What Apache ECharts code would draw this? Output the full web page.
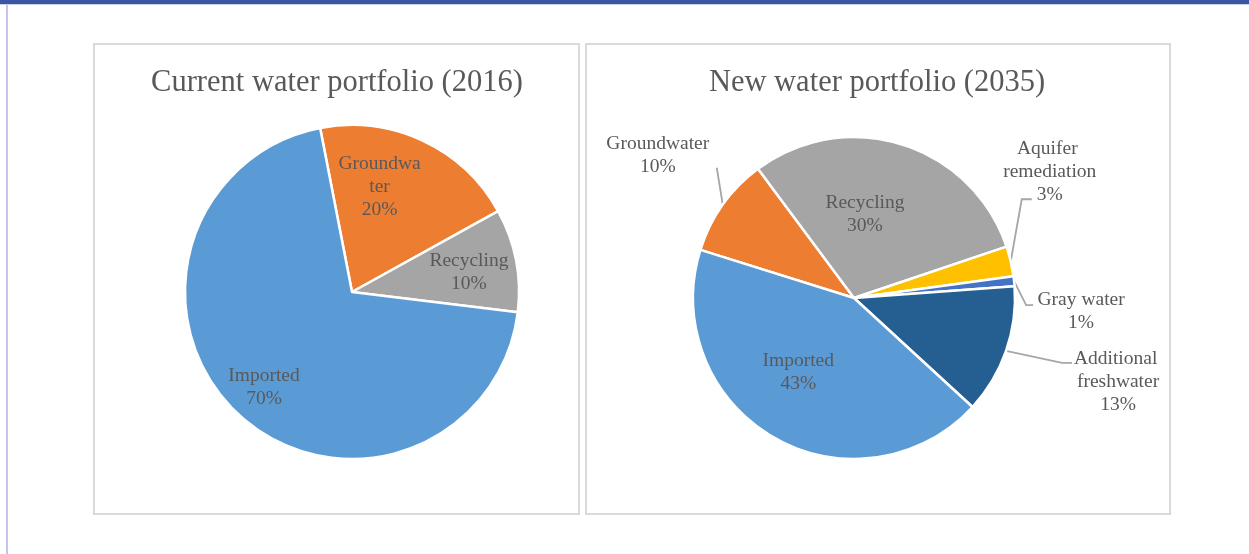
<!DOCTYPE html>
<html>
<head>
<meta charset="utf-8">
<script src="https://cdn.jsdelivr.net/npm/echarts@6/dist/echarts.min.js"></script>
<style>
  html, body { margin: 0; padding: 0; background: #fff; }
  body { width: 1249px; height: 554px; position: relative; overflow: hidden; }
  .topbar { position: absolute; left: 0; top: 0; width: 1249px; height: 4px; background: #3b55a3; border-bottom: 1px solid #c9d0ea; }
  .sideline { position: absolute; left: 6px; top: 5px; width: 2px; height: 549px; background: #c4c4f0; }
  .panel { position: absolute; box-sizing: border-box; border: 2px solid #d9d9d9; background: #fff; }
  #chart { position: absolute; left: 0; top: 0; width: 1249px; height: 554px; }
</style>
</head>
<body>
<div class="topbar"></div>
<div class="sideline"></div>
<div class="panel" style="left:93px; top:43px; width:487px; height:472px;"></div>
<div class="panel" style="left:585px; top:43px; width:586px; height:472px;"></div>
<div id="chart"></div>
<script>
// --- data ---
const currentTitle = 'Current water portfolio (2016)';
const currentNames = ['Groundwater', 'Recycling', 'Imported'];
const currentValues = [20, 10, 70];
const currentColors = ['#ed7d31', '#a5a5a5', '#5b9bd5'];

const newTitle = 'New water portfolio (2035)';
const newNames = ['Groundwater', 'Recycling', 'Aquifer remediation', 'Gray water', 'Additional freshwater', 'Imported'];
const newValues = [10, 30, 3, 1, 13, 43];
const newColors = ['#ed7d31', '#a5a5a5', '#ffc000', '#4472c4', '#255e91', '#5b9bd5'];

// --- label placement tweaks (Excel puts labels a bit differently than echarts) ---
const currentNudge = [[-9, -27], [32, -3], [-29, 32]];
const newNudge = [null, [-14, -4], null, null, null, [-14, 2]];
const newLeaders = {
  0: { elbow: [-6, -37], end: [-6, -37], label: [-65, -49] },
  2: { elbow: [11, -62], end: [21, -62], label: [39, -89] },
  3: { elbow: [12, 24], end: [19, 24], label: [67, 30] },
  4: { elbow: [56, 12], end: [66, 12], label: [112, 31] }
};

const FONT = "'Liberation Serif', 'Times New Roman', serif";
const TXT = '#595959';

function makeLayout(nudge, leaders) {
  return function (p) {
    const i = p.dataIndex;
    const L = leaders[i];
    if (L && p.labelLinePoints) {
      const e = p.labelLinePoints[0];
      return {
        x: e[0] + L.label[0],
        y: e[1] + L.label[1],
        align: 'center',
        verticalAlign: 'middle',
        labelLinePoints: [
          [e[0], e[1]],
          [e[0] + L.elbow[0], e[1] + L.elbow[1]],
          [e[0] + L.end[0], e[1] + L.end[1]]
        ]
      };
    }
    const r = p.labelRect;
    const d = nudge[i] || [0, 0];
    return {
      x: r.x + r.width / 2 + d[0],
      y: r.y + r.height / 2 + d[1],
      align: 'center',
      verticalAlign: 'middle'
    };
  };
}

function fmt(p) {
  return p.name + '\n' + Math.round(p.percent) + '%';
}

const baseLabel = {
  formatter: fmt,
  fontFamily: FONT,
  fontSize: 19.5,
  lineHeight: 23,
  color: TXT
};

const currentData = currentNames.map((n, i) => ({
  name: n, value: currentValues[i], itemStyle: { color: currentColors[i] }
}));

const newData = newNames.map((n, i) => {
  const item = { name: n, value: newValues[i], itemStyle: { color: newColors[i] } };
  if (newLeaders[i]) {
    item.label = { position: 'outside' };
    item.labelLine = { show: true };
    if (n === 'Groundwater') item.label.width = 120;
  }
  return item;
});

const chart = echarts.init(document.getElementById('chart'), null, { renderer: 'canvas' });
chart.setOption({
  animation: false,
  backgroundColor: 'transparent',
  title: [
    {
      text: currentTitle, left: 337, top: 67, textAlign: 'center', padding: 0,
      textStyle: { fontFamily: FONT, fontSize: 30.5, fontWeight: 'normal', color: TXT }
    },
    {
      text: newTitle, left: 877, top: 67, textAlign: 'center', padding: 0,
      textStyle: { fontFamily: FONT, fontSize: 30.5, fontWeight: 'normal', color: TXT }
    }
  ],
  series: [
    {
      type: 'pie',
      center: [352, 292],
      radius: 167,
      startAngle: 101,
      clockwise: true,
      avoidLabelOverlap: false,
      silent: true,
      itemStyle: { borderColor: '#fff', borderWidth: 2.5 },
      label: Object.assign({}, baseLabel, { position: 'inside', width: 86, overflow: 'breakAll' }),
      labelLine: { show: false },
      labelLayout: makeLayout(currentNudge, {}),
      data: currentData
    },
    {
      type: 'pie',
      center: [854, 298],
      radius: 161,
      startAngle: 162.6,
      clockwise: true,
      avoidLabelOverlap: false,
      silent: true,
      itemStyle: { borderColor: '#fff', borderWidth: 2.5 },
      label: Object.assign({}, baseLabel, { position: 'inside', width: 98, overflow: 'break' }),
      labelLine: { show: false, length: 10, length2: 8, lineStyle: { color: '#a6a6a6', width: 1.8 } },
      labelLayout: makeLayout(newNudge, newLeaders),
      data: newData
    }
  ]
});
</script>
</body>
</html>
